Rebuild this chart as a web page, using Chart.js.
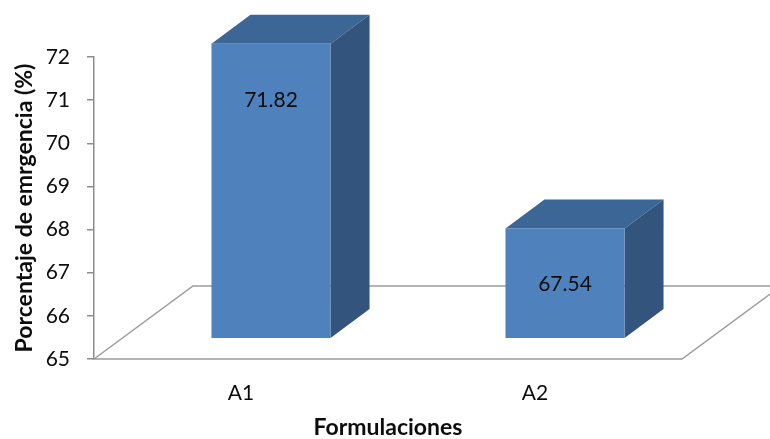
<!DOCTYPE html>
<html>
<head>
<meta charset="utf-8">
<script src="https://cdn.jsdelivr.net/npm/chart.js@4.4.1/dist/chart.umd.min.js"></script>
<style>
  html, body { margin: 0; padding: 0; background: #fff; }
  #wrap { width: 770px; height: 439px; }
</style>
</head>
<body>
<div id="wrap"><canvas id="c" width="770" height="439"></canvas></div>
<script>
// Emergence percentage per formulation
const categories = ['A1', 'A2'];
const emergencia = [71.82, 67.54];
const yTicks = [65, 66, 67, 68, 69, 70, 71, 72];

const FONT = 'Lato, "Open Sans", sans-serif';
const FACE = '#4F81BD';
const TOP = '#3C6696';
const SIDE = '#32547D';
const FLOOR = '#9C9C9C';
const AXIS = '#8C8C8C';
const TEXT = '#0d0d0d';

// Oblique projection of the floor and the bars (px)
const FLOOR_DX = 99, FLOOR_DY = 73;
const FRONT_DX = 30, FRONT_DY = 21;
const BAR_DX = 39, BAR_DY = 29;

const bar3d = {
  id: 'bar3d',
  beforeDatasetsDraw(chart) {
    const { ctx, chartArea: a } = chart;
    ctx.save();
    ctx.strokeStyle = FLOOR;
    ctx.lineWidth = 1.5;
    ctx.beginPath();
    ctx.moveTo(a.left, a.bottom);
    ctx.lineTo(a.left + FLOOR_DX, a.bottom - FLOOR_DY);
    ctx.lineTo(a.right + FLOOR_DX, a.bottom - FLOOR_DY);
    ctx.lineTo(a.right, a.bottom);
    ctx.closePath();
    ctx.stroke();
    ctx.restore();
  },
  afterDatasetsDraw(chart) {
    const { ctx } = chart;
    const yScale = chart.scales.y;
    const meta = chart.getDatasetMeta(0);
    const values = chart.data.datasets[0].data;
    ctx.save();
    meta.data.forEach((el, i) => {
      const { x, width } = el.getProps(['x', 'width'], true);
      const l = x - width / 2 + FRONT_DX;
      const r = x + width / 2 + FRONT_DX;
      const t = yScale.getPixelForValue(values[i]) - FRONT_DY;
      const b = yScale.getPixelForValue(yScale.min) - FRONT_DY;

      ctx.fillStyle = TOP;
      ctx.beginPath();
      ctx.moveTo(l, t);
      ctx.lineTo(l + BAR_DX, t - BAR_DY);
      ctx.lineTo(r + BAR_DX, t - BAR_DY);
      ctx.lineTo(r, t);
      ctx.closePath();
      ctx.fill();

      ctx.fillStyle = SIDE;
      ctx.beginPath();
      ctx.moveTo(r, t);
      ctx.lineTo(r + BAR_DX, t - BAR_DY);
      ctx.lineTo(r + BAR_DX, b - BAR_DY);
      ctx.lineTo(r, b);
      ctx.closePath();
      ctx.fill();

      ctx.fillStyle = FACE;
      ctx.fillRect(l, t, r - l, b - t);

      ctx.fillStyle = TEXT;
      ctx.font = '21px ' + FONT;
      ctx.textAlign = 'center';
      ctx.textBaseline = 'middle';
      ctx.fillText(values[i].toFixed(2), (l + r) / 2, t + 56);
    });
    ctx.restore();
  }
};

new Chart(document.getElementById('c'), {
  type: 'bar',
  data: {
    labels: categories,
    datasets: [{
      data: emergencia,
      base: yTicks[0],
      backgroundColor: 'rgba(0,0,0,0)',
      borderWidth: 0,
      categoryPercentage: 1,
      barPercentage: 0.405
    }]
  },
  plugins: [bar3d],
  options: {
    responsive: false,
    devicePixelRatio: 1,
    animation: false,
    layout: { padding: { top: 57, right: 88, left: 0, bottom: 0 } },
    plugins: { legend: { display: false }, tooltip: { enabled: false } },
    scales: {
      x: {
        grid: { display: false, drawTicks: false },
        border: { display: false },
        ticks: { font: { family: FONT, size: 21 }, color: TEXT, padding: 22 },
        title: {
          display: true,
          text: 'Formulaciones',
          font: { family: FONT, size: 23, weight: 'bold', lineHeight: 1 },
          color: TEXT,
          padding: { top: 0, bottom: 0 }
        },
        afterFit(scale) { scale.height = 80; }
      },
      y: {
        min: 65,
        max: 72,
        afterBuildTicks(scale) { scale.ticks = yTicks.map(v => ({ value: v })); },
        grid: { drawOnChartArea: false, drawTicks: true, tickLength: 7, color: AXIS, lineWidth: 1.5 },
        border: { display: true, color: AXIS, width: 1.5 },
        ticks: { font: { family: FONT, size: 21 }, color: TEXT, padding: 17 },
        title: {
          display: true,
          text: 'Porcentaje de emrgencia (%)',
          font: { family: FONT, size: 23, weight: 'bold', lineHeight: 1.2 },
          color: TEXT,
          padding: { top: 11, bottom: 0 }
        },
        afterFit(scale) { scale.width = 94; }
      }
    }
  }
});
</script>
</body>
</html>
